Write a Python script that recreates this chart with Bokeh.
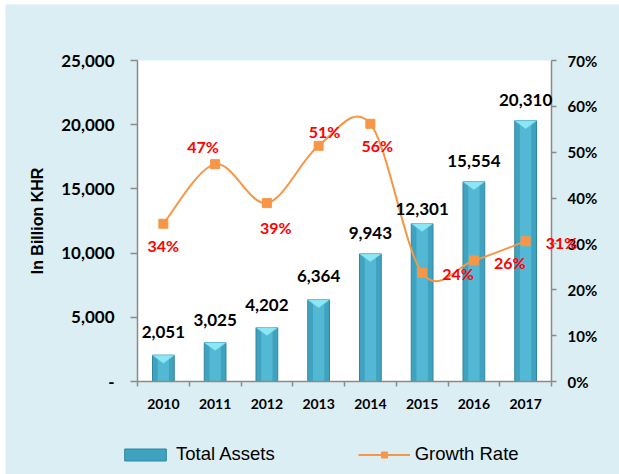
from bokeh.plotting import figure
from bokeh.models import (Range1d, LinearAxis, FixedTicker, NumeralTickFormatter, BoxAnnotation,
                          PrintfTickFormatter, ColumnDataSource, LabelSet, Legend, LegendItem)
from bokeh.core.properties import value
from bokeh.embed import file_html
from bokeh.resources import INLINE

# ---- data ----
years = ["2010", "2011", "2012", "2013", "2014", "2015", "2016", "2017"]
total_assets = [2051, 3025, 4202, 6364, 9943, 12301, 15554, 20310]
growth_rate = [34.4, 47.4, 38.9, 51.4, 56.2, 23.7, 26.4, 30.6]
left_ticks = [0, 5000, 10000, 15000, 20000, 25000]
right_ticks = [0, 10, 20, 30, 40, 50, 60, 70]
left_max = 25000
right_max = 70

# ---- label placement (style) ----
bar_dy = [23, 23, 23, 24, 21, 15, 21, 21]
pct_dx = [0, -12, 9, 6, 7, 20, 20, 20]
pct_dy = [-22, 18, -24, 14, -22, -1, -2, -1]
pct_side = ["c", "c", "c", "c", "c", "r", "r", "r"]

# ---- layout geometry (pixels) ----
W, H = 619, 474
FL, FT = 5, 4                       # light-blue panel starts here
PL, PR, PT, PB = 137, 551, 60, 381  # white plot area

BG = "#DBEEF3"
AXC = "#8A8A8A"
ORANGE = "#F79646"
FONT = "Lato"

n = len(years)
xs = [i + 0.5 for i in range(n)]

ppx = (PR - PL) / n
ppy = (PB - PT) / left_max
ppp = (PB - PT) / right_max
x_rng = Range1d(-(PL - FL) / ppx, n + (W - PR) / ppx)
y_rng = Range1d(-(H - PB) / ppy, left_max + (PT - FT) / ppy)
p_rng = Range1d(-(H - PB) / ppp, right_max + (PT - FT) / ppp)

p = figure(width=W, height=H, x_range=x_rng, y_range=y_rng,
           output_backend="svg", toolbar_location=None,
           background_fill_color=BG, border_fill_color="white", outline_line_color=None,
           min_border=0, min_border_left=FL, min_border_top=FT,
           min_border_right=0, min_border_bottom=0)
p.extra_y_ranges = {"pct": p_rng}
p.grid.visible = False

# white plot area
p.add_layout(BoxAnnotation(left=0, right=n, bottom=0, top=left_max, fill_color="white",
                           fill_alpha=1, line_color=None, level="underlay"))

# ---- bars ----
bar_src = ColumnDataSource(dict(x=xs, top=total_assets, lab=[f"{v:,}" for v in total_assets],
                                dy=bar_dy))
bar_r = p.vbar(x="x", top="top", width=0.42, source=bar_src,
               fill_color="#3FA2BF", line_color="#2F86A1", line_width=1)
p.vbar(x="x", top="top", width=0.22, source=bar_src, fill_color="#53B8D3", line_color=None)
bev = 620.0
tri_x = [[x - 0.21, x + 0.21, x] for x in xs]
tri_y = [[v, v, v - bev] for v in total_assets]
p.patches(tri_x, tri_y, fill_color="#8CE6F6", line_color="#74D5EA", line_width=0.5)

# ---- smoothed growth line (bezier through data points) ----
pts = list(zip(xs, growth_rate))
x0, y0, x1, y1, cx0, cy0, cx1, cy1 = ([] for _ in range(8))
for i in range(n - 1):
    pa = pts[i - 1] if i > 0 else pts[i]
    pb = pts[i]
    pc = pts[i + 1]
    pd = pts[i + 2] if i + 2 < n else pts[i + 1]
    x0.append(pb[0]); y0.append(pb[1]); x1.append(pc[0]); y1.append(pc[1])
    cx0.append(pb[0] + (pc[0] - pa[0]) / 6); cy0.append(pb[1] + (pc[1] - pa[1]) / 6)
    cx1.append(pc[0] - (pd[0] - pb[0]) / 6); cy1.append(pc[1] - (pd[1] - pb[1]) / 6)
bez_r = p.bezier(x0=x0, y0=y0, x1=x1, y1=y1, cx0=cx0, cy0=cy0, cx1=cx1, cy1=cy1,
                 y_range_name="pct", line_color=ORANGE, line_width=2)
pct_src = ColumnDataSource(dict(x=xs, y=growth_rate))
sq_r = p.scatter(x="x", y="y", source=pct_src, y_range_name="pct", marker="square",
                 size=9, fill_color=ORANGE, line_color=ORANGE)

# ---- labels ----
p.add_layout(LabelSet(x="x", y="top", text="lab", source=bar_src, y_offset="dy",
                      text_align="center", text_baseline="middle",
                      text_font=value(FONT), text_font_style="bold",
                      text_font_size="17px", text_color="black"))
ci = [i for i in range(n) if pct_side[i] == "c"]
ri = [i for i in range(n) if pct_side[i] == "r"]
for idx, align in ((ci, "center"), (ri, "left")):
    src = ColumnDataSource(dict(x=[xs[i] for i in idx], y=[growth_rate[i] for i in idx],
                                lab=[f"{growth_rate[i]:.0f}%" for i in idx],
                                dx=[pct_dx[i] for i in idx], dy=[pct_dy[i] for i in idx]))
    p.add_layout(LabelSet(x="x", y="y", text="lab", source=src, y_range_name="pct",
                          x_offset="dx", y_offset="dy",
                          text_align=align, text_baseline="middle",
                          text_font=value(FONT), text_font_style="bold",
                          text_font_size="16px", text_color="#FF0000"))

# ---- axes (fixed at the white plot area's edges) ----
xa = p.xaxis[0]
xa.fixed_location = 0
xa.bounds = (0, n)
xa.ticker = FixedTicker(ticks=xs, minor_ticks=list(range(n + 1)))
xa.major_label_overrides = {x: y for x, y in zip(xs, years)}
xa.major_tick_line_color = None
xa.major_tick_out = 0
xa.major_tick_in = 0
xa.minor_tick_line_color = AXC
xa.minor_tick_line_width = 1.5
xa.minor_tick_out = 5
xa.minor_tick_in = 0
xa.axis_line_color = AXC
xa.axis_line_width = 1.5
xa.major_label_standoff = 12
xa.major_label_text_font = FONT
xa.major_label_text_font_style = "bold"
xa.major_label_text_font_size = "14px"
xa.major_label_text_color = "black"

ya = p.yaxis[0]
ya.fixed_location = 0
ya.bounds = (0, left_max)
ya.ticker = FixedTicker(ticks=left_ticks, minor_ticks=[])
ya.formatter = NumeralTickFormatter(format="0,0")
ya.major_label_overrides = {0: "-"}
ya.major_tick_out = 7
ya.major_tick_in = 0
ya.major_tick_line_color = AXC
ya.major_tick_line_width = 1.5
ya.minor_tick_line_color = None
ya.axis_line_color = AXC
ya.axis_line_width = 1.5
ya.major_label_standoff = 16
ya.major_label_text_font = FONT
ya.major_label_text_font_style = "bold"
ya.major_label_text_font_size = "17px"
ya.major_label_text_color = "black"
ya.axis_label = "In Billion KHR"
ya.axis_label_text_font = "Liberation Sans"
ya.axis_label_text_font_style = "bold"
ya.axis_label_text_font_size = "16px"
ya.axis_label_text_color = "black"
ya.axis_label_standoff = 12

ra = LinearAxis(y_range_name="pct", ticker=FixedTicker(ticks=right_ticks, minor_ticks=[]),
                formatter=PrintfTickFormatter(format="%d%%"))
ra.fixed_location = n
ra.bounds = (0, right_max)
ra.major_tick_out = 5
ra.major_tick_in = 0
ra.major_tick_line_color = AXC
ra.major_tick_line_width = 1.5
ra.minor_tick_line_color = None
ra.axis_line_color = AXC
ra.axis_line_width = 1.5
ra.major_label_standoff = 11
ra.major_label_text_font = FONT
ra.major_label_text_font_style = "bold"
ra.major_label_text_font_size = "15px"
ra.major_label_text_color = "black"
p.add_layout(ra, "right")

# ---- legend ----
legend = Legend(items=[LegendItem(label="Total Assets", renderers=[bar_r]),
                       LegendItem(label="Growth Rate", renderers=[bez_r, sq_r])],
                orientation="horizontal", location=(119 - FL, 9),
                glyph_width=52, glyph_height=15, label_standoff=5, spacing=83,
                padding=0, margin=0, border_line_color=None, background_fill_alpha=0,
                label_text_font="Liberation Sans", label_text_font_size="18.5px",
                label_text_color="black")
p.add_layout(legend)

open("out.html", "w").write(file_html(p, INLINE))
